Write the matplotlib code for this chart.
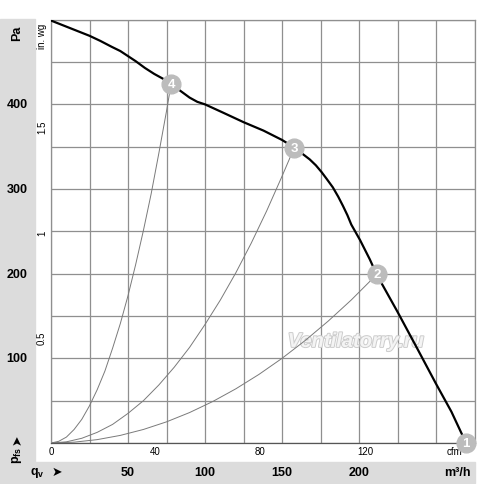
import matplotlib
matplotlib.use("Agg")
import matplotlib.pyplot as plt
import matplotlib.transforms as mtransforms
import matplotlib.patheffects as pe
from matplotlib.patches import Rectangle

plt.rcParams['font.family'] = ['Liberation Sans', 'DejaVu Sans']
plt.rcParams['mathtext.fontset'] = 'custom'
plt.rcParams['mathtext.rm'] = 'Liberation Sans'
plt.rcParams['mathtext.bf'] = 'Liberation Sans:bold'

# fan curve, qv in m3/h, pfs in Pa
fan_q = [0, 12.5, 25, 32, 39.4, 45, 50, 55, 61, 67, 74, 78, 84, 90, 95, 100, 112, 125,
         138, 150, 158, 163, 168, 172, 175.7, 179, 183, 186.5, 189.6, 192.5, 195,
         200.6, 207, 211.5, 225, 238, 250, 260, 269.5]
fan_p = [499, 490, 481, 475, 468, 463, 457, 451, 443, 436, 429, 424, 416, 408, 403,
         400, 390, 379, 369, 358, 349, 342, 335, 328, 320, 312, 302, 291, 280, 269,
         258, 240, 217, 199, 155, 111, 70, 37, 0]

# system curves through the operating points
sys4_q = [0, 5, 10, 15, 20, 25, 30, 35, 40, 45, 50, 55, 60, 65, 70, 75, 78]
sys4_p = [0, 2, 7, 16, 28, 44, 63, 85, 112, 141, 174, 211, 251, 294, 342, 392, 424]
sys3_q = [0, 10, 20, 30, 40, 50, 60, 70, 80, 90, 100, 110, 120, 130, 140, 150, 158]
sys3_p = [0, 1.4, 5.6, 12.6, 22, 35, 50, 68.5, 89.5, 113, 140, 169, 201, 236, 274, 315, 349]
sys2_q = [0, 15, 30, 45, 60, 75, 90, 105, 120, 135, 150, 165, 180, 195, 211.5]
sys2_p = [0, 1, 4, 9, 16, 25, 36, 49, 64, 81, 100, 121, 144, 169, 199]

pt_labels = ['1', '2', '3', '4']
pt_q = [269.5, 211.5, 158, 78]
pt_p = [0, 200, 349, 424]

m3h_ticks = [50, 100, 150, 200]
pa_ticks = [100, 200, 300, 400]
cfm_ticks = [0, 40, 80, 120]
inwg_ticks = [0.5, 1, 1.5]

band = '#dcdcdc'
gridc = '#8f8f8f'

fig = plt.figure(figsize=(5, 4.85), dpi=100)
# gray L-shaped label band
fig.patches.append(Rectangle((0, 0.002), 0.07, 0.957, transform=fig.transFigure,
                             color=band, zorder=0))
fig.patches.append(Rectangle((0, 0.002), 0.95, 0.0434, transform=fig.transFigure,
                             color=band, zorder=0))

ax = fig.add_axes([0.102, 0.0845, 0.847, 0.8728])
ax.set_xlim(0, 275)
ax.set_ylim(0, 500)
ax.set_xticks(range(0, 276, 25))
ax.set_yticks(range(0, 501, 50))
ax.tick_params(length=0, labelbottom=False, labelleft=False)
ax.grid(True, color=gridc, lw=0.9)
ax.set_axisbelow(True)
for s in ax.spines.values():
    s.set_color(gridc)
    s.set_linewidth(0.9)
ax.spines['bottom'].set_color('#555555')

ax.text(198, 120, 'Ventilatorry.ru', fontsize=14.5, fontweight='bold', style='italic',
        color='#f4f4f4', ha='center', va='center', zorder=1.5,
        path_effects=[pe.withStroke(linewidth=1.4, foreground='#cccccc')])

ax.plot(sys4_q, sys4_p, color='#7a7a7a', lw=0.7, zorder=2)
ax.plot(sys3_q, sys3_p, color='#7a7a7a', lw=0.7, zorder=2)
ax.plot(sys2_q, sys2_p, color='#7a7a7a', lw=0.7, zorder=2)
ax.plot(fan_q, fan_p, color='black', lw=1.6, zorder=3)

ax.plot(pt_q, pt_p, 'o', ms=13.5, mfc='#bcbcbc', mec='#bcbcbc', zorder=4, clip_on=False)
for lab, q, p in zip(pt_labels, pt_q, pt_p):
    ax.text(q, p, lab, color='white', fontsize=9.5, fontweight='bold',
            ha='center', va='center', zorder=5, clip_on=False)

# cfm scale under the axis
cfm = ax.secondary_xaxis('bottom', functions=(lambda q: q / 1.699, lambda c: c * 1.699))
cfm.set_xticks(cfm_ticks)
cfm.tick_params(length=0, labelsize=7, pad=2)
cfm.spines['bottom'].set_visible(False)
ax.text(262, -10, 'cfm', fontsize=7, ha='center', va='center', zorder=3.5)

# in. wg scale left of the axis
wg = ax.secondary_yaxis('left', functions=(lambda p: p / 249.09, lambda w: w * 249.09))
wg.set_yticks(inwg_ticks)
wg.set_yticklabels([str(v) for v in inwg_ticks], rotation=90, va='center')
wg.tick_params(length=0, labelsize=7, pad=3)
wg.spines['left'].set_visible(False)
fig.text(0.084, 0.925, 'in. wg', fontsize=7, rotation=90, ha='center', va='center')

# bold main scales in the band
tx = mtransforms.blended_transform_factory(ax.transData, fig.transFigure)
for v in m3h_ticks:
    fig.text(v, 0.0255, str(v), transform=tx, fontsize=9, fontweight='bold',
             ha='center', va='center')
fig.text(0.914, 0.0255, 'm³/h', fontsize=9, fontweight='bold', ha='center', va='center')
fig.text(0.075, 0.0255, r'$\mathbf{q}_{\mathbf{v}}$', fontsize=9, ha='center', va='center')
fig.text(0.114, 0.0265, '➤', family='DejaVu Sans', fontsize=9, ha='center', va='center')

ty = mtransforms.blended_transform_factory(fig.transFigure, ax.transData)
for v in pa_ticks:
    fig.text(0.034, v, str(v), transform=ty, fontsize=9, fontweight='bold',
             ha='center', va='center')
fig.text(0.034, 0.932, 'Pa', fontsize=9, fontweight='bold', rotation=90,
         ha='center', va='center')
fig.text(0.034, 0.062, r'$\mathbf{p}_{\mathbf{fs}}$', fontsize=9, rotation=90,
         ha='center', va='center')
fig.text(0.034, 0.093, '➤', family='DejaVu Sans', fontsize=9, rotation=90,
         ha='center', va='center')

fig.savefig('out.png', dpi=100)
